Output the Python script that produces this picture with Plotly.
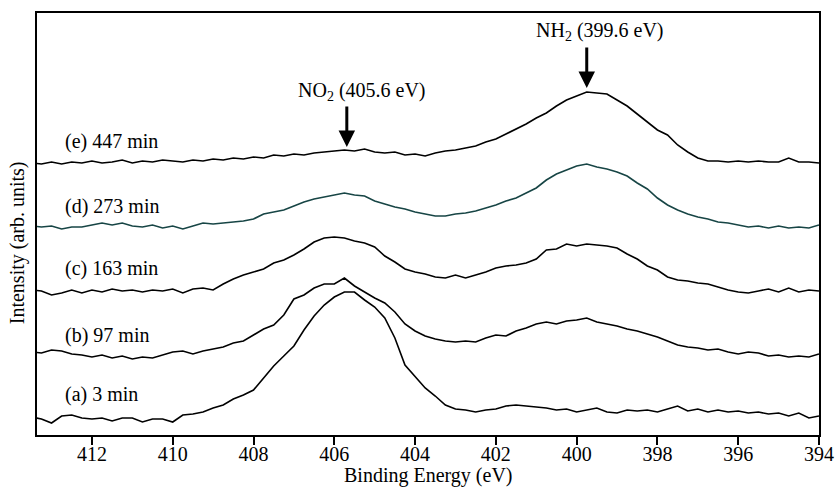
import numpy as np
import plotly.graph_objects as go

# Binding energy grid (eV), 0.25 eV steps, high -> low
energy = np.round(np.arange(413.5, 393.99, -0.25), 2)

labels = ["(a) 3 min", "(b) 97 min", "(c) 163 min", "(d) 273 min", "(e) 447 min"]

spec_a = [18, 16, 12, 19, 20, 17, 16, 17, 14, 17,
          17, 13, 16, 16, 13, 20, 21, 23, 27, 30,
          36, 40, 45, 57, 69, 79, 89, 105, 119, 130,
          138, 143, 143, 135, 128, 117, 97, 70, 58, 47,
          39, 30, 26, 25, 23, 25, 26, 29, 30, 29,
          28, 27, 25, 26, 23, 25, 27, 23, 22, 25,
          24, 25, 23, 26, 29, 24, 26, 23, 25, 23,
          24, 22, 23, 21, 22, 19, 22, 17, 19]

spec_b = [83, 82, 85, 84, 81, 80, 78, 80, 77, 79,
          76, 78, 77, 80, 83, 84, 81, 84, 86, 88,
          92, 94, 100, 106, 110, 120, 136, 140, 147, 151,
          151, 157, 149, 143, 137, 132, 123, 111, 104, 99,
          96, 94, 93, 94, 93, 97, 100, 99, 104, 107,
          111, 113, 111, 114, 115, 117, 113, 111, 109, 106,
          104, 101, 98, 94, 90, 88, 87, 85, 86, 83,
          81, 83, 82, 79, 80, 78, 79, 78, 81]

spec_c = [145, 144, 140, 142, 145, 142, 145, 143, 146, 144,
          145, 143, 145, 144, 146, 142, 146, 147, 145, 151,
          156, 160, 163, 166, 172, 175, 180, 186, 193, 197,
          198, 197, 194, 192, 188, 179, 173, 166, 163, 161,
          158, 157, 160, 157, 160, 163, 167, 169, 170, 172,
          176, 185, 186, 191, 189, 191, 190, 189, 187, 181,
          176, 169, 165, 158, 155, 154, 152, 151, 148, 145,
          143, 142, 144, 146, 143, 147, 143, 145, 144]

spec_d = [209, 208, 209, 206, 208, 208, 210, 212, 210, 212,
          209, 208, 210, 207, 209, 206, 209, 212, 211, 212,
          213, 214, 216, 221, 223, 225, 229, 233, 236, 238,
          240, 242, 240, 239, 234, 231, 228, 226, 223, 221,
          219, 219, 221, 222, 224, 227, 230, 234, 237, 242,
          247, 255, 261, 265, 269, 271, 268, 266, 263, 259,
          252, 246, 237, 230, 225, 221, 218, 216, 213, 212,
          210, 208, 209, 207, 209, 207, 208, 207, 210]

spec_e = [272, 271, 273, 271, 273, 272, 274, 272, 273, 275,
          272, 274, 273, 275, 274, 273, 275, 274, 276, 275,
          277, 276, 278, 277, 280, 279, 281, 280, 282, 283,
          284, 285, 284, 286, 283, 282, 283, 280, 281, 279,
          282, 284, 285, 287, 289, 293, 296, 301, 306, 311,
          317, 322, 329, 335, 339, 343, 342, 341, 335, 329,
          321, 313, 305, 300, 290, 283, 277, 274, 274, 273,
          274, 273, 274, 273, 273, 277, 273, 273, 272]

tick_values = [412, 410, 408, 406, 404, 402, 400, 398, 396, 394]

spectra = [spec_a, spec_b, spec_c, spec_d, spec_e]
colors = ["#000000", "#000000", "#000000", "#174545", "#000000"]
label_y = [41, 100, 167, 229, 294]
label_x = 412.72

peak_names = ["NO<sub>2</sub> (405.6 eV)", "NH<sub>2</sub> (399.6 eV)"]
arrow_x = [405.69, 399.75]
arrow_tip_y = [288, 347]
peak_label_x = [405.32, 399.43]
peak_label_y = [344, 404]

FONT = "Liberation Serif, Times New Roman, serif"
FS = 20
X_RANGE = [413.36, 394]

fig = go.Figure()
for vals, col in zip(spectra, colors):
    fig.add_trace(go.Scatter(
        x=energy[:len(vals)], y=vals, mode="lines",
        line=dict(color=col, width=1.6), showlegend=False, hoverinfo="skip"))

# invisible trace tied to the label axis so it is drawn
fig.add_trace(go.Scatter(x=[tick_values[0]], y=[spec_a[0]], xaxis="x2", mode="markers",
                         marker=dict(opacity=0), showlegend=False, hoverinfo="skip"))

annotations = []
for lab, ly in zip(labels, label_y):
    annotations.append(dict(x=label_x, y=ly, xref="x", yref="y", text=lab,
                            showarrow=False, xanchor="left", yanchor="middle",
                            font=dict(family=FONT, size=FS, color="black")))

for name, ax_, ty, lx, lyy in zip(peak_names, arrow_x, arrow_tip_y, peak_label_x, peak_label_y):
    annotations.append(dict(x=ax_, y=ty, xref="x", yref="y", text="",
                            showarrow=True, ax=0, ay=-42, arrowhead=2,
                            arrowsize=1.1, arrowwidth=3, arrowcolor="black"))
    annotations.append(dict(x=lx, y=lyy, xref="x", yref="y", text=name,
                            showarrow=False, xanchor="center", yanchor="middle",
                            font=dict(family=FONT, size=FS, color="black")))

annotations.append(dict(x=0.5, y=-0.096, xref="paper", yref="paper",
                        text="Binding Energy (eV)", showarrow=False,
                        xanchor="center", yanchor="middle",
                        font=dict(family=FONT, size=FS, color="black")))
annotations.append(dict(x=-0.024, y=0.455, xref="paper", yref="paper",
                        text="Intensity (arb. units)", showarrow=False,
                        textangle=-90, xanchor="center", yanchor="middle",
                        font=dict(family=FONT, size=FS, color="black")))

fig.update_layout(
    width=836, height=487,
    margin=dict(l=37, r=17, t=13, b=52, autoexpand=False),
    paper_bgcolor="white", plot_bgcolor="white",
    annotations=annotations,
    xaxis=dict(range=X_RANGE, tickmode="array", automargin=False,
               tickvals=tick_values, showticklabels=False,
               ticks="outside", ticklen=8, tickwidth=1.6, tickcolor="black",
               showline=True, linecolor="black", linewidth=1.5, mirror=True,
               showgrid=False, zeroline=False),
    xaxis2=dict(range=X_RANGE, tickmode="array", automargin=False,
                overlaying="x", side="bottom", anchor="y",
                tickvals=tick_values, ticks="outside", ticklen=1,
                tickcolor="rgba(0,0,0,0)", showline=False,
                showgrid=False, zeroline=False,
                tickfont=dict(family=FONT, size=FS, color="black")),
    yaxis=dict(range=[0, 422], showticklabels=False, ticks="", automargin=False,
               showline=True, linecolor="black", linewidth=1.5, mirror=True,
               showgrid=False, zeroline=False),
)

fig.write_html("out.html", config={"displayModeBar": False},
               post_script="document.body.style.margin='0';document.body.style.overflow='hidden';")
